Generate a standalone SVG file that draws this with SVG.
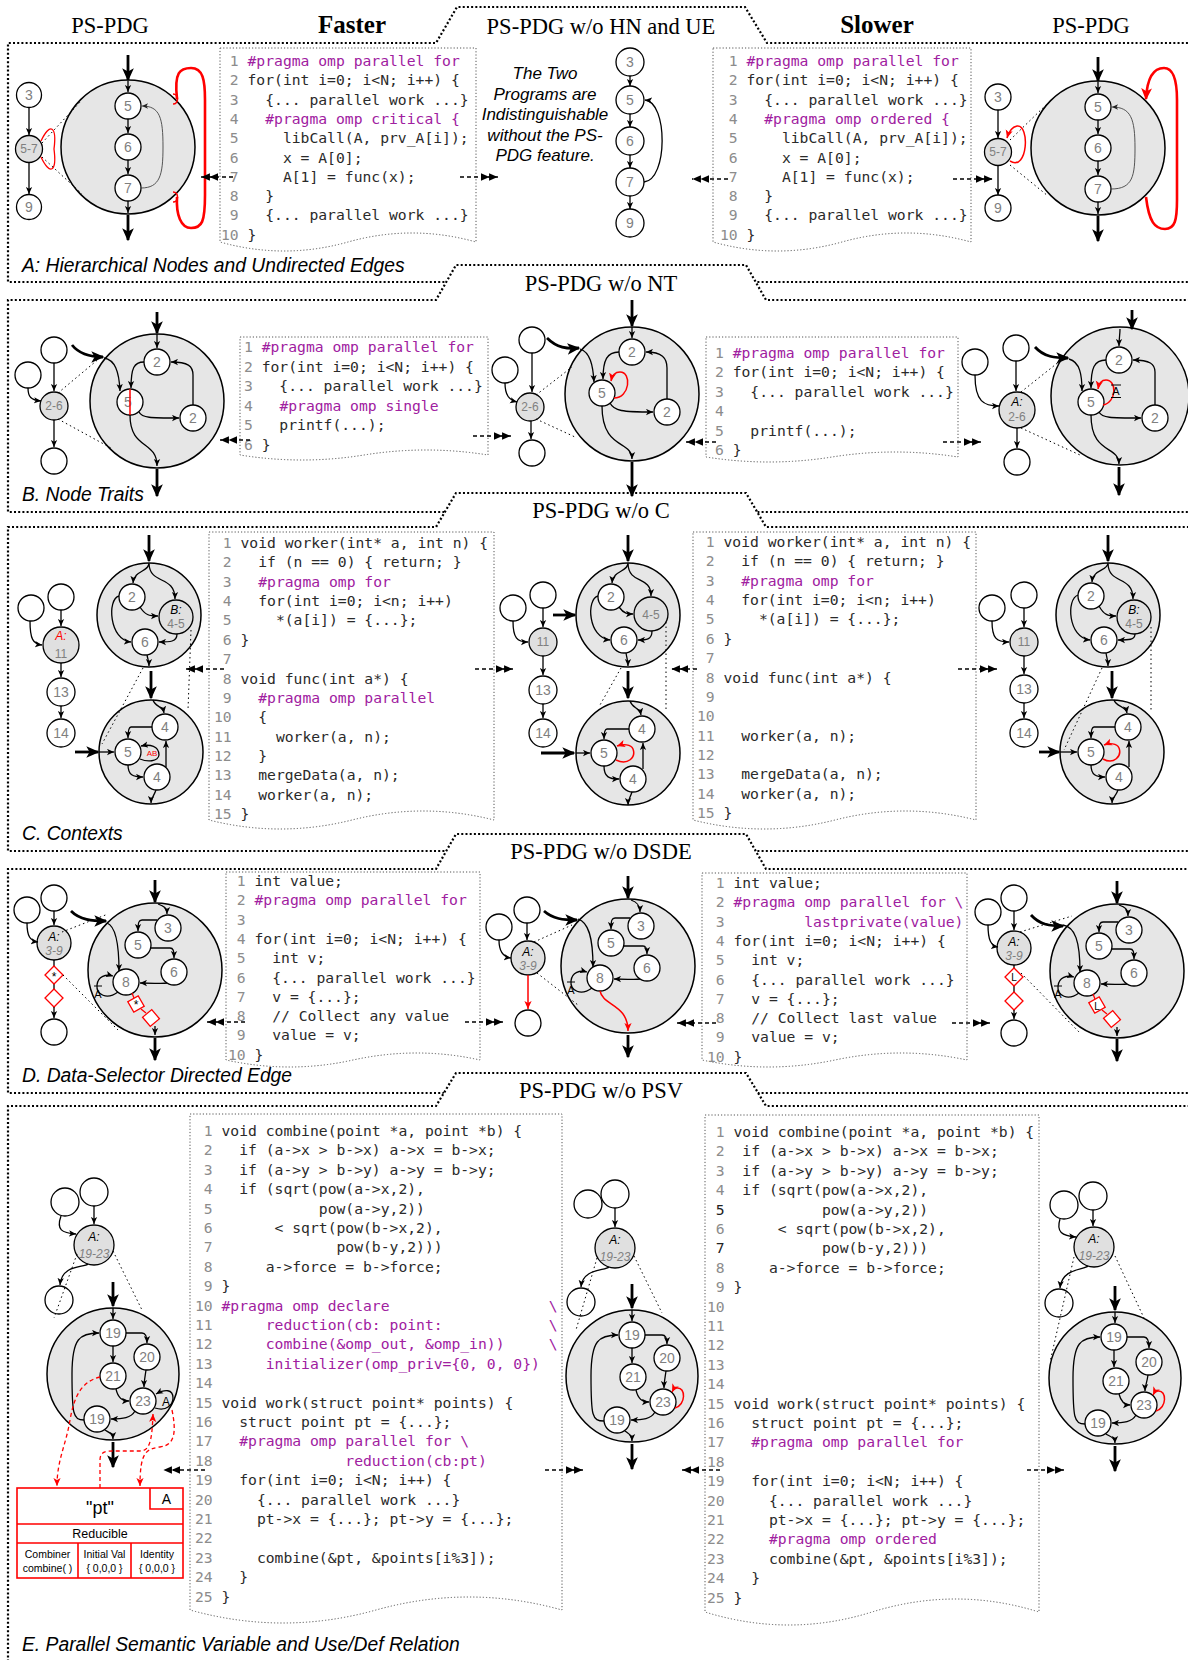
<svg xmlns="http://www.w3.org/2000/svg" width="1188" height="1660" viewBox="0 0 1188 1660">
<defs>
<style>
.frame{fill:#fff;stroke:#000;stroke-width:2.2;stroke-dasharray:2 2.2}
.ttl{font-family:"Liberation Serif","Times New Roman",serif;font-size:22.5px;text-anchor:middle;fill:#000}
.hd{font-family:"Liberation Serif","Times New Roman",serif;font-size:25px;font-weight:bold;text-anchor:middle;fill:#000}
.cap{font-family:"Liberation Sans",Arial,sans-serif;font-style:italic;font-size:19.3px;fill:#000}
.note{font-family:"Liberation Sans",Arial,sans-serif;font-style:italic;font-size:17px;fill:#000;text-anchor:middle}
.code{font-family:"DejaVu Sans Mono",monospace;font-size:14.7px;fill:#2a2a2a;white-space:pre}
.code text{white-space:pre}
.ln{fill:#8c8c8c}
.pr{fill:#a0209f}
.doc{fill:#fff;stroke:#555;stroke-width:1;stroke-dasharray:1.2 2}
.big{fill:#e6e6e6;stroke:#000;stroke-width:1.5}
.n{fill:#fff;stroke:#000;stroke-width:1.3}
.g{fill:#e0e0e0;stroke:#000;stroke-width:1.3}
.lb{font-family:"Liberation Sans",Arial,sans-serif;font-size:14px;fill:#7f7f7f;text-anchor:middle}
.sl{font-family:"Liberation Sans",Arial,sans-serif;font-size:12px;fill:#7f7f7f;text-anchor:middle}
.sk{font-family:"Liberation Sans",Arial,sans-serif;font-size:12px;font-style:italic;fill:#000;text-anchor:middle}
.sg{font-family:"Liberation Sans",Arial,sans-serif;font-size:12px;font-style:italic;fill:#808080;text-anchor:middle}
.e{fill:none;stroke:#000;stroke-width:1.3;marker-end:url(#ah)}
.bk{fill:none;stroke:#444;stroke-width:0.9;marker-end:url(#ag)}
.t{fill:none;stroke:#000;stroke-width:2.8;marker-end:url(#ab)}
.dt{fill:none;stroke:#000;stroke-width:1;stroke-dasharray:1.5 3}
.dc{fill:none;stroke:#000;stroke-width:1.3;stroke-dasharray:4 3;marker-end:url(#dd)}
.r{fill:none;stroke:#f00;stroke-width:1.5;marker-end:url(#ar)}
.rt{fill:none;stroke:#f00;stroke-width:2.6}
.rd{fill:none;stroke:#f00;stroke-width:1.3;stroke-dasharray:4 3;marker-end:url(#ar)}
.dia{fill:#fff;stroke:#f00;stroke-width:1.3}
.ol{stroke:#000;stroke-width:1;fill:none}
.psv{fill:#fff;stroke:#f00;stroke-width:1.6}
.pl{stroke:#f00;stroke-width:1.6;fill:none}
.pt{font-family:"Liberation Sans",Arial,sans-serif;fill:#000;text-anchor:middle}
</style>
<marker id="ah" viewBox="0 0 10 10" refX="10" refY="5" markerWidth="7" markerHeight="7" orient="auto" markerUnits="userSpaceOnUse"><path d="M0,0.5 L10,5 L0,9.5 L2.5,5z" fill="#000"/></marker>
<marker id="ag" viewBox="0 0 10 10" refX="10" refY="5" markerWidth="6" markerHeight="6" orient="auto" markerUnits="userSpaceOnUse"><path d="M0,0.5 L10,5 L0,9.5 L2.5,5z" fill="#222"/></marker>
<marker id="ab" viewBox="0 0 10 10" refX="9" refY="5" markerWidth="13" markerHeight="13" orient="auto" markerUnits="userSpaceOnUse"><path d="M0,0.5 L10,5 L0,9.5 L2.5,5z" fill="#000"/></marker>
<marker id="ar" viewBox="0 0 10 10" refX="10" refY="5" markerWidth="8" markerHeight="8" orient="auto" markerUnits="userSpaceOnUse"><path d="M0,0.5 L10,5 L0,9.5 L2.5,5z" fill="#f00"/></marker>
<marker id="arb" viewBox="0 0 10 10" refX="9" refY="5" markerWidth="12" markerHeight="12" orient="auto" markerUnits="userSpaceOnUse"><path d="M0,0.5 L10,5 L0,9.5 L2.5,5z" fill="#f00"/></marker>
<marker id="dd" viewBox="0 0 20 10" refX="20" refY="5" markerWidth="17" markerHeight="9" orient="auto" markerUnits="userSpaceOnUse"><path d="M0,0.5 L10,5 L0,9.5z M9.5,0.5 L19.5,5 L9.5,9.5z" fill="#000"/></marker>
</defs>
<rect width="1188" height="1660" fill="#fff"/>

<g id="frames">
<path class="frame" d="M1192,282 H8 V43 H436 L457,7 H745 L767,43 H1192"/>
<path class="frame" d="M1192,512 H8 V300 H436 L456,265 H746 L766,300 H1192"/>
<path class="frame" d="M1192,851 H8 V527 H436 L456,493 H746 L766,527 H1192"/>
<path class="frame" d="M1192,1093 H8 V869 H436 L456,834 H746 L766,869 H1192"/>
<path class="frame" d="M1192,1662 H8 V1106 H436 L456,1073 H746 L766,1106 H1192"/>
</g>

<g id="titles">
<text class="ttl" x="110" y="33">PS-PDG</text>
<text class="hd" x="352" y="33">Faster</text>
<text class="ttl" x="601" y="34">PS-PDG w/o HN and UE</text>
<text class="hd" x="877" y="33">Slower</text>
<text class="ttl" x="1091" y="33">PS-PDG</text>
<text class="ttl" x="601" y="291">PS-PDG w/o NT</text>
<text class="ttl" x="601" y="518">PS-PDG w/o C</text>
<text class="ttl" x="601" y="859">PS-PDG w/o DSDE</text>
<text class="ttl" x="601" y="1098">PS-PDG w/o PSV</text>
<text class="cap" x="22" y="272">A: Hierarchical Nodes and Undirected Edges</text>
<text class="cap" x="22" y="501">B. Node Traits</text>
<text class="cap" x="22" y="840">C. Contexts</text>
<text class="cap" x="22" y="1082">D. Data-Selector Directed Edge</text>
<text class="cap" x="22" y="1651">E. Parallel Semantic Variable and Use/Def Relation</text>
</g>

<!-- ========== SECTION A ========== -->
<g id="a-left">
<circle class="big" cx="128" cy="147" r="67"/>
<circle class="n" cx="128" cy="106" r="13"/><text class="lb" x="128" y="111">5</text>
<circle class="n" cx="128" cy="147" r="13"/><text class="lb" x="128" y="152">6</text>
<circle class="n" cx="128" cy="188" r="13"/><text class="lb" x="128" y="193">7</text>
<path class="t" d="M128,55 V80"/>
<path class="e" d="M128,81 V92"/>
<path class="e" d="M128,119 V133"/>
<path class="e" d="M128,160 V174"/>
<path class="e" d="M128,201 V213"/>
<path class="t" d="M128,215 V240"/>
<path class="bk" d="M141,188 C160,188 163,175 163,147 C163,118 160,106 142,106"/>
<path class="rt" d="M177,99 C174,72 180,68 191,68 C203,68 205,80 205,100 V195 C205,222 202,228 191,228 C181,228 176,215 177,197"/>
<path class="pl" d="M173,94 C179,94 179,104 173,104 M173,192 C179,192 179,202 173,202"/>
<circle class="n" cx="29" cy="95" r="12.5"/><text class="lb" x="29" y="100">3</text>
<circle class="g" cx="29" cy="149" r="13.5"/><text class="sl" x="29" y="153">5-7</text>
<circle class="n" cx="29" cy="207" r="12.5"/><text class="lb" x="29" y="212">9</text>
<path class="e" d="M29,108 V135"/>
<path class="e" d="M29,163 V194"/>
<path fill="none" stroke="#f00" stroke-width="1.3" d="M41,141 C50,122 57,126 54,149 C57,172 50,176 41,157"/>
<path class="dt" d="M42,143 L81,101 M42,157 L82,194"/>
</g>

<g id="a-code-left" class="code" xml:space="preserve">
<path class="doc" d="M220,48 H476 V242 Q412,224 348,242 Q284,260 220,242 Z"/>
<text x="221" y="66"><tspan class="ln"> 1</tspan> <tspan class="pr">#pragma omp parallel for</tspan></text>
<text x="221" y="85.3"><tspan class="ln"> 2</tspan> for(int i=0; i&lt;N; i++) {</text>
<text x="221" y="104.6"><tspan class="ln"> 3</tspan>   {... parallel work ...}</text>
<text x="221" y="123.9"><tspan class="ln"> 4</tspan>   <tspan class="pr">#pragma omp critical {</tspan></text>
<text x="221" y="143.2"><tspan class="ln"> 5</tspan>     libCall(A, prv_A[i]);</text>
<text x="221" y="162.5"><tspan class="ln"> 6</tspan>     x = A[0];</text>
<text x="221" y="181.8"><tspan class="ln"> 7</tspan>     A[1] = func(x);</text>
<text x="221" y="201.1"><tspan class="ln"> 8</tspan>   }</text>
<text x="221" y="220.4"><tspan class="ln"> 9</tspan>   {... parallel work ...}</text>
<text x="221" y="239.7"><tspan class="ln">10</tspan> }</text>
</g>

<g id="a-middle">
<text class="note" x="545" y="79">The Two</text>
<text class="note" x="545" y="99.5">Programs are</text>
<text class="note" x="545" y="120">Indistinguishable</text>
<text class="note" x="545" y="140.5">without the PS-</text>
<text class="note" x="545" y="161">PDG feature.</text>
<circle class="n" cx="630" cy="62" r="14"/><text class="lb" x="630" y="67">3</text>
<circle class="n" cx="630" cy="100" r="14"/><text class="lb" x="630" y="105">5</text>
<circle class="n" cx="630" cy="141" r="14"/><text class="lb" x="630" y="146">6</text>
<circle class="n" cx="630" cy="182" r="14"/><text class="lb" x="630" y="187">7</text>
<circle class="n" cx="630" cy="223" r="14"/><text class="lb" x="630" y="228">9</text>
<path class="e" d="M630,76 V86"/>
<path class="e" d="M630,114 V127"/>
<path class="e" d="M630,155 V168"/>
<path class="e" d="M630,196 V209"/>
<path class="e" d="M644,182 C668,180 668,102 645,100"/>
</g>

<g id="a-code-right" class="code" xml:space="preserve">
<path class="doc" d="M713,48 H971 V242 Q906,224 842,242 Q777,260 713,242 Z"/>
<text x="720" y="66"><tspan class="ln"> 1</tspan> <tspan class="pr">#pragma omp parallel for</tspan></text>
<text x="720" y="85.3"><tspan class="ln"> 2</tspan> for(int i=0; i&lt;N; i++) {</text>
<text x="720" y="104.6"><tspan class="ln"> 3</tspan>   {... parallel work ...}</text>
<text x="720" y="123.9"><tspan class="ln"> 4</tspan>   <tspan class="pr">#pragma omp ordered {</tspan></text>
<text x="720" y="143.2"><tspan class="ln"> 5</tspan>     libCall(A, prv_A[i]);</text>
<text x="720" y="162.5"><tspan class="ln"> 6</tspan>     x = A[0];</text>
<text x="720" y="181.8"><tspan class="ln"> 7</tspan>     A[1] = func(x);</text>
<text x="720" y="201.1"><tspan class="ln"> 8</tspan>   }</text>
<text x="720" y="220.4"><tspan class="ln"> 9</tspan>   {... parallel work ...}</text>
<text x="720" y="239.7"><tspan class="ln">10</tspan> }</text>
</g>

<g id="a-right">
<circle class="big" cx="1098" cy="148" r="67"/>
<circle class="n" cx="1098" cy="107" r="13"/><text class="lb" x="1098" y="112">5</text>
<circle class="n" cx="1098" cy="148" r="13"/><text class="lb" x="1098" y="153">6</text>
<circle class="n" cx="1098" cy="189" r="13"/><text class="lb" x="1098" y="194">7</text>
<path class="t" d="M1098,57 V81"/>
<path class="e" d="M1098,82 V93"/>
<path class="e" d="M1098,120 V134"/>
<path class="e" d="M1098,161 V175"/>
<path class="e" d="M1098,202 V214"/>
<path class="t" d="M1098,216 V241"/>
<path class="bk" d="M1111,189 C1133,189 1135,176 1135,148 C1135,119 1131,107 1112,107"/>
<path class="rt" marker-end="url(#arb)" d="M1146,197 C1149,222 1155,229 1165,229 C1175,229 1177,220 1177,200 V100 C1177,76 1172,68 1164,68 C1152,68 1147,80 1146,99"/>
<circle class="n" cx="998" cy="97" r="13"/><text class="lb" x="998" y="102">3</text>
<circle class="g" cx="998" cy="152" r="13.5"/><text class="sl" x="998" y="156">5-7</text>
<circle class="n" cx="998" cy="208" r="13"/><text class="lb" x="998" y="213">9</text>
<path class="e" d="M998,110 V138"/>
<path class="e" d="M998,166 V195"/>
<path class="r" d="M1010,161 C1028,172 1030,124 1017,126 C1012,127 1009,131 1007,138"/>
<path class="dt" d="M1010,140 L1048,103 M1010,165 L1048,196"/>
</g>

<g id="a-connectors">
<path class="dc" d="M233,177 H201"/>
<path class="dc" d="M460,177 H498"/>
<path class="dc" d="M728,179 H692"/>
<path class="dc" d="M953,179 H993"/>
</g>

<!-- ========== SECTION B ========== -->
<g id="b-left">
<circle class="big" cx="157" cy="401" r="67"/>
<circle class="n" cx="157" cy="362" r="13"/><text class="lb" x="157" y="367">2</text>
<circle class="n" cx="130" cy="402" r="13"/><text class="lb" x="128" y="407">5</text>
<circle class="n" cx="193" cy="418" r="13"/><text class="lb" x="193" y="423">2</text>
<path class="t" d="M157,312 V333"/>
<path class="e" d="M157,334 V348"/>
<path class="e" d="M104,358 C115,360 119,371 120,391"/>
<path class="e" d="M144,362 C134,362 131,368 131,388"/>
<path class="e" d="M139,412 C142,418 150,418 179,418"/>
<path class="e" d="M193,405 V375 C193,366 188,362 171,362"/>
<path class="e" d="M130,415 C130,450 157,440 157,466"/>
<path class="t" d="M157,469 V496"/>
<path stroke="#f00" stroke-width="1.5" d="M130,389 V415"/>
<circle class="n" cx="54" cy="350" r="13"/>
<circle class="n" cx="28" cy="375" r="13"/>
<circle class="g" cx="54" cy="406" r="14"/><text class="sl" x="54" y="410">2-6</text>
<circle class="n" cx="54" cy="461" r="13"/>
<path class="e" d="M54,363 V391"/>
<path class="e" d="M28,388 C28,397 31,400 41,401"/>
<path class="e" d="M54,420 V447"/>
<path class="dt" d="M58,393 L101,357 M58,419 L111,448"/>
<path class="t" d="M72,345 C80,355 92,357 103,357"/>
</g>

<g id="b-code-left" class="code" xml:space="preserve">
<path class="doc" d="M240,337 H488 V455 Q426,445 364,455 Q302,465 240,455 Z"/>
<text x="244" y="352"><tspan class="ln">1</tspan> <tspan class="pr">#pragma omp parallel for</tspan></text>
<text x="244" y="371.6"><tspan class="ln">2</tspan> for(int i=0; i&lt;N; i++) {</text>
<text x="244" y="391.2"><tspan class="ln">3</tspan>   {... parallel work ...}</text>
<text x="244" y="410.8"><tspan class="ln">4</tspan>   <tspan class="pr">#pragma omp single</tspan></text>
<text x="244" y="430.4"><tspan class="ln">5</tspan>   printf(...);</text>
<text x="244" y="450"><tspan class="ln">6</tspan> }</text>
</g>

<g id="b-middle">
<circle class="big" cx="632" cy="394" r="67"/>
<circle class="n" cx="632" cy="352" r="13"/><text class="lb" x="632" y="357">2</text>
<circle class="n" cx="602" cy="393" r="13"/><text class="lb" x="602" y="398">5</text>
<circle class="n" cx="667" cy="412" r="13"/><text class="lb" x="667" y="417">2</text>
<path class="t" d="M632,300 V326"/>
<path class="e" d="M632,327 V338"/>
<path class="e" d="M580,349 C590,352 593,365 594,382"/>
<path class="e" d="M619,352 C607,352 603,360 603,379"/>
<path class="e" d="M610,403 C614,411 622,412 653,412"/>
<path class="e" d="M667,399 V368 C667,358 662,352 646,352"/>
<path class="e" d="M602,406 C602,450 632,440 632,459"/>
<path class="t" d="M632,462 V496"/>
<path class="r" d="M614,398 C630,398 632,372 620,372 C615,372 612,376 611,381"/>
<circle class="n" cx="532" cy="340" r="13"/>
<circle class="n" cx="505" cy="370" r="13"/>
<circle class="g" cx="530" cy="407" r="14"/><text class="sl" x="530" y="411">2-6</text>
<circle class="n" cx="532" cy="453" r="13"/>
<path class="e" d="M532,353 V392"/>
<path class="e" d="M505,383 C505,395 509,400 517,402"/>
<path class="e" d="M531,421 V439"/>
<path class="dt" d="M536,395 L572,367 M536,419 L575,437"/>
<path class="t" d="M547,338 C557,348 567,349 579,348"/>
</g>

<g id="b-code-right" class="code" xml:space="preserve">
<path class="doc" d="M706,337 H958 V457 Q895,447 832,457 Q769,467 706,457 Z"/>
<text x="715" y="358"><tspan class="ln">1</tspan> <tspan class="pr">#pragma omp parallel for</tspan></text>
<text x="715" y="377.4"><tspan class="ln">2</tspan> for(int i=0; i&lt;N; i++) {</text>
<text x="715" y="396.8"><tspan class="ln">3</tspan>   {... parallel work ...}</text>
<text x="715" y="416.2"><tspan class="ln">4</tspan></text>
<text x="715" y="435.6"><tspan class="ln">5</tspan>   printf(...);</text>
<text x="715" y="455"><tspan class="ln">6</tspan> }</text>
</g>

<g id="b-right">
<circle class="big" cx="1120" cy="396" r="69"/>
<circle class="n" cx="1119" cy="360" r="13"/><text class="lb" x="1119" y="365">2</text>
<circle class="n" cx="1091" cy="402" r="13"/><text class="lb" x="1091" y="407">5</text>
<circle class="n" cx="1155" cy="418" r="13"/><text class="lb" x="1155" y="423">2</text>
<path class="t" d="M1132,310 V329"/>
<path class="e" d="M1120,329 C1120,335 1119,338 1119,346"/>
<path class="e" d="M1069,359 C1080,362 1082,375 1082,391"/>
<path class="e" d="M1106,360 C1094,360 1091,368 1091,388"/>
<path class="e" d="M1099,412 C1102,418 1110,418 1141,418"/>
<path class="e" d="M1155,405 V372 C1155,364 1150,360 1133,360"/>
<path class="e" d="M1091,415 C1091,455 1119,445 1119,464"/>
<path class="t" d="M1119,467 V495"/>
<path class="r" d="M1103,405 C1117,402 1117,380 1106,380 C1101,380 1099,383 1098,389"/>
<text x="1116" y="395" font-family="Liberation Sans, Arial, sans-serif" font-size="11" text-anchor="middle">A</text>
<path class="ol" d="M1111,385 H1121 M1111,397.5 H1121"/>
<circle class="n" cx="1016" cy="348" r="13"/>
<circle class="n" cx="975" cy="362" r="13"/>
<circle class="g" cx="1017" cy="410" r="18"/><text class="sk" x="1017" y="406" font-style="normal">A:</text><text class="sl" x="1017" y="421">2-6</text>
<circle class="n" cx="1017" cy="462" r="13"/>
<path class="e" d="M1016,361 V391"/>
<path class="e" d="M975,375 C975,402 984,406 999,406"/>
<path class="e" d="M1017,428 V448"/>
<path class="dt" d="M1021,392 L1065,357 M1021,428 L1080,455"/>
<path class="t" d="M1035,347 C1044,357 1055,358 1068,358"/>
</g>

<g id="b-connectors">
<path class="dc" d="M250,440 H220"/>
<path class="dc" d="M473,436 H511"/>
<path class="dc" d="M716,442 H686"/>
<path class="dc" d="M943,442 H981"/>
</g>

<!-- ========== SECTION C ========== -->
<g id="c-left">
<g transform="translate(149,615)">
<circle class="big" r="52"/>
<path class="t" d="M0,-80 V-54"/>
<circle class="n" cx="-17" cy="-18" r="13"/><text class="lb" x="-17" y="-13">2</text>
<circle class="g" cx="27" cy="2" r="17"/><text class="sk" x="27" y="-1">B:</text><text class="sl" x="27" y="13">4-5</text>
<circle class="n" cx="-4" cy="27" r="13"/><text class="lb" x="-4" y="32">6</text>
<path class="e" d="M0,-52 C0,-43 -15,-45 -16,-32"/>
<path class="e" d="M0,-51 C1,-30 26,-40 26,-16"/>
<path class="e" d="M-9,-8 C-4,0 0,1 9,1"/>
<path class="e" d="M-30,-19 C-42,-16 -40,25 -18,27"/>
<path class="e" d="M28,19 C28,27 21,27 10,27"/>
<path class="e" d="M-2,40 C-1,45 0,47 0,51"/>
</g>
<path class="t" d="M151,671 V698"/>
<g transform="translate(151,752)">
<circle class="big" r="52"/>
<circle class="n" cx="14" cy="-25" r="13"/><text class="lb" x="14" y="-20">4</text>
<circle class="n" cx="-23" cy="0" r="13"/><text class="lb" x="-23" y="5">5</text>
<circle class="n" cx="6" cy="25" r="13"/><text class="lb" x="6" y="30">4</text>
<path class="e" d="M2,-52 C4,-45 12,-46 13,-39"/>
<path class="e" d="M1,-25 H-20 C-22,-25 -23,-22 -23,-14"/>
<path class="e" d="M-23,13 C-23,23 -18,25 -8,25"/>
<path class="e" d="M15,15 V-11"/>
<path class="e" d="M-11,7 C-4,10 7,10 8,3 C8,-6 -1,-8 -10,-6"/>
<text x="1" y="4" font-family="Liberation Sans, Arial, sans-serif" font-size="8" fill="#f00" text-anchor="middle">AB</text>
<path class="t" d="M-76,0 H-53"/>
<path class="e" d="M-52,0 H-37"/>
<path class="e" d="M5,38 C3,44 0,46 0,51"/>
</g>
<path class="dt" d="M143,668 L102,744 M191,630 L188,710"/>
<circle class="n" cx="61" cy="597" r="13"/>
<circle class="n" cx="31" cy="608" r="13"/>
<circle class="g" cx="61" cy="645" r="18"/><text class="sk" x="61" y="640" style="fill:#f00">A:</text><text class="sl" x="61" y="658">11</text>
<circle class="n" cx="61" cy="692" r="14"/><text class="lb" x="61" y="697">13</text>
<circle class="n" cx="61" cy="733" r="14"/><text class="lb" x="61" y="738">14</text>
<path class="e" d="M61,610 V626"/>
<path class="e" d="M30,621 C30,639 33,644 42,645"/>
<path class="e" d="M61,663 V677"/>
<path class="e" d="M61,706 V718"/>
</g>

<g id="c-code-left" class="code" xml:space="preserve">
<path class="doc" d="M209,532 H494 V820 Q423,802 352,820 Q280,838 209,820 Z"/>
<text x="214" y="548"><tspan class="ln"> 1</tspan> void worker(int* a, int n) {</text>
<text x="214" y="567.4"><tspan class="ln"> 2</tspan>   if (n == 0) { return; }</text>
<text x="214" y="586.7"><tspan class="ln"> 3</tspan>   <tspan class="pr">#pragma omp for</tspan></text>
<text x="214" y="606.1"><tspan class="ln"> 4</tspan>   for(int i=0; i&lt;n; i++)</text>
<text x="214" y="625.4"><tspan class="ln"> 5</tspan>     *(a[i]) = {...};</text>
<text x="214" y="644.8"><tspan class="ln"> 6</tspan> }</text>
<text x="214" y="664.2"><tspan class="ln"> 7</tspan></text>
<text x="214" y="683.5"><tspan class="ln"> 8</tspan> void func(int a*) {</text>
<text x="214" y="702.9"><tspan class="ln"> 9</tspan>   <tspan class="pr">#pragma omp parallel</tspan></text>
<text x="214" y="722.2"><tspan class="ln">10</tspan>   {</text>
<text x="214" y="741.6"><tspan class="ln">11</tspan>     worker(a, n);</text>
<text x="214" y="761"><tspan class="ln">12</tspan>   }</text>
<text x="214" y="780.3"><tspan class="ln">13</tspan>   mergeData(a, n);</text>
<text x="214" y="799.7"><tspan class="ln">14</tspan>   worker(a, n);</text>
<text x="214" y="819"><tspan class="ln">15</tspan> }</text>
</g>

<g id="c-middle">
<g transform="translate(628,615)">
<circle class="big" r="52"/>
<path class="t" d="M0,-80 V-54"/>
<circle class="n" cx="-17" cy="-18" r="13"/><text class="lb" x="-17" y="-13">2</text>
<circle class="g" cx="23" cy="-1" r="17"/><text class="sl" x="23" y="4">4-5</text>
<circle class="n" cx="-4" cy="25" r="13"/><text class="lb" x="-4" y="30">6</text>
<path class="e" d="M0,-52 C0,-43 -15,-45 -16,-32"/>
<path class="e" d="M0,-51 C1,-30 23,-40 23,-19"/>
<path class="e" d="M-9,-8 C-4,-1 0,-1 5,-1"/>
<path class="e" d="M-30,-19 C-42,-16 -40,23 -18,25"/>
<path class="e" d="M24,16 C24,25 18,25 10,25"/>
<path class="e" d="M-2,38 C-1,44 0,46 0,51"/>
</g>
<path class="t" d="M553,615 H575"/>
<path class="t" d="M628,671 V698"/>
<g transform="translate(628,753)">
<circle class="big" r="52"/>
<circle class="n" cx="14" cy="-24" r="13"/><text class="lb" x="14" y="-19">4</text>
<circle class="n" cx="-24" cy="0" r="13"/><text class="lb" x="-24" y="5">5</text>
<circle class="n" cx="5" cy="26" r="13"/><text class="lb" x="5" y="31">4</text>
<path class="e" d="M2,-52 C4,-45 12,-45 13,-38"/>
<path class="e" d="M1,-24 H-21 C-23,-24 -24,-21 -24,-14"/>
<path class="e" d="M-24,13 C-24,24 -19,26 -9,26"/>
<path class="e" d="M15,16 V-10"/>
<path class="r" d="M-12,7 C0,13 8,4 5,-4 C3,-9 -5,-9 -11,-7"/>
<path class="t" d="M-87,0 H-54"/>
<path class="e" d="M-52,0 H-38"/>
<path class="e" d="M4,39 C2,45 0,47 0,52"/>
</g>
<path class="dt" d="M621,668 L600,705 M666,622 L666,712"/>
<circle class="n" cx="543" cy="595" r="13"/>
<circle class="n" cx="513" cy="608" r="13"/>
<circle class="g" cx="543" cy="642" r="14"/><text class="sl" x="543" y="646">11</text>
<circle class="n" cx="543" cy="690" r="14"/><text class="lb" x="543" y="695">13</text>
<circle class="n" cx="543" cy="733" r="14"/><text class="lb" x="543" y="738">14</text>
<path class="e" d="M543,608 V627"/>
<path class="e" d="M513,621 C513,638 517,642 528,642"/>
<path class="e" d="M543,656 V675"/>
<path class="e" d="M543,704 V718"/>
</g>

<g id="c-code-right" class="code" xml:space="preserve">
<path class="doc" d="M693,532 H976 V820 Q905,802 835,820 Q764,838 693,820 Z"/>
<text x="697" y="547"><tspan class="ln"> 1</tspan> void worker(int* a, int n) {</text>
<text x="697" y="566.4"><tspan class="ln"> 2</tspan>   if (n == 0) { return; }</text>
<text x="697" y="585.7"><tspan class="ln"> 3</tspan>   <tspan class="pr">#pragma omp for</tspan></text>
<text x="697" y="605.1"><tspan class="ln"> 4</tspan>   for(int i=0; i&lt;n; i++)</text>
<text x="697" y="624.4"><tspan class="ln"> 5</tspan>     *(a[i]) = {...};</text>
<text x="697" y="643.8"><tspan class="ln"> 6</tspan> }</text>
<text x="697" y="663.2"><tspan class="ln"> 7</tspan></text>
<text x="697" y="682.5"><tspan class="ln"> 8</tspan> void func(int a*) {</text>
<text x="697" y="701.9"><tspan class="ln"> 9</tspan></text>
<text x="697" y="721.2"><tspan class="ln">10</tspan></text>
<text x="697" y="740.6"><tspan class="ln">11</tspan>   worker(a, n);</text>
<text x="697" y="760"><tspan class="ln">12</tspan></text>
<text x="697" y="779.3"><tspan class="ln">13</tspan>   mergeData(a, n);</text>
<text x="697" y="798.7"><tspan class="ln">14</tspan>   worker(a, n);</text>
<text x="697" y="818"><tspan class="ln">15</tspan> }</text>
</g>

<g id="c-right">
<g transform="translate(1108,615)">
<circle class="big" r="52"/>
<path class="t" d="M0,-80 V-54"/>
<circle class="n" cx="-17" cy="-19" r="13"/><text class="lb" x="-17" y="-14">2</text>
<circle class="g" cx="26" cy="2" r="17"/><text class="sk" x="26" y="-1">B:</text><text class="sl" x="26" y="13">4-5</text>
<circle class="n" cx="-4" cy="25" r="13"/><text class="lb" x="-4" y="30">6</text>
<path class="e" d="M0,-52 C0,-44 -15,-46 -16,-33"/>
<path class="e" d="M0,-51 C1,-30 25,-40 25,-16"/>
<path class="e" d="M-9,-9 C-4,0 0,1 8,1"/>
<path class="e" d="M-30,-20 C-42,-16 -40,23 -18,25"/>
<path class="e" d="M27,19 C27,25 21,25 10,25"/>
<path class="e" d="M-2,38 C-1,44 0,46 0,51"/>
</g>
<path class="t" d="M1112,671 V698"/>
<g transform="translate(1112,752)">
<circle class="big" r="52"/>
<circle class="n" cx="16" cy="-25" r="13"/><text class="lb" x="16" y="-20">4</text>
<circle class="n" cx="-21" cy="0" r="13"/><text class="lb" x="-21" y="5">5</text>
<circle class="n" cx="7" cy="25" r="13"/><text class="lb" x="7" y="30">4</text>
<path class="e" d="M2,-52 C4,-45 14,-46 15,-39"/>
<path class="e" d="M3,-25 H-18 C-20,-25 -21,-22 -21,-14"/>
<path class="e" d="M-21,13 C-21,23 -16,25 -7,25"/>
<path class="e" d="M17,15 V-11"/>
<path class="r" d="M-9,7 C2,13 10,4 7,-4 C5,-9 -3,-9 -8,-7"/>
<path class="t" d="M-73,0 H-53"/>
<path class="e" d="M-52,0 H-35"/>
<path class="e" d="M6,38 C4,44 0,46 0,51"/>
</g>
<path class="dt" d="M1102,668 L1064,750 M1151,627 L1151,712"/>
<circle class="n" cx="1024" cy="595" r="13"/>
<circle class="n" cx="992" cy="608" r="13"/>
<circle class="g" cx="1024" cy="642" r="14"/><text class="sl" x="1024" y="646">11</text>
<circle class="n" cx="1024" cy="689" r="14"/><text class="lb" x="1024" y="694">13</text>
<circle class="n" cx="1024" cy="733" r="14"/><text class="lb" x="1024" y="738">14</text>
<path class="e" d="M1024,608 V627"/>
<path class="e" d="M992,621 C992,638 996,642 1009,642"/>
<path class="e" d="M1024,656 V674"/>
<path class="e" d="M1024,703 V718"/>
</g>

<g id="c-connectors">
<path class="dc" d="M224,669 H186"/>
<path class="dc" d="M475,669 H513"/>
<path class="dc" d="M697,669 H671"/>
<path class="dc" d="M958,669 H997"/>
</g>

<!-- ========== SECTION D ========== -->
<g id="d-left">
<g transform="translate(155,970)">
<circle class="big" r="67"/>
<path class="t" d="M0,-90 V-68"/>
<circle class="n" cx="13" cy="-42" r="13"/><text class="lb" x="13" y="-37">3</text>
<circle class="n" cx="-17" cy="-25" r="13"/><text class="lb" x="-17" y="-20">5</text>
<circle class="n" cx="19" cy="2" r="13"/><text class="lb" x="19" y="7">6</text>
<circle class="n" cx="-29" cy="12" r="13"/><text class="lb" x="-29" y="17">8</text>
<path class="e" d="M3,-66 C9,-64 12,-62 12,-56"/>
<path class="e" d="M2,-50 H-13 C-16,-50 -17,-48 -17,-39"/>
<path class="e" d="M-5,-22 H15 C18,-22 19,-20 19,-12"/>
<path class="e" d="M12,13 C8,14 0,13 -15,13"/>
<path class="e" d="M-48,-47 C-40,-44 -36,-30 -36,1"/>
<path class="e" d="M-37,22 C-48,30 -59,25 -58,15 C-57,6 -49,4 -42,6"/>
<text x="-57" y="28" font-family="Liberation Sans, Arial, sans-serif" font-size="11" text-anchor="middle">A</text>
<path class="ol" d="M-61,16 H-53"/>
<path stroke="#f00" stroke-width="1.3" d="M-23,23 L-21,28 M-14,39 L-9,43"/>
<rect class="dia" x="-6" y="-6" width="12" height="12" transform="translate(-19,34) rotate(-30)"/>
<text x="-19" y="39" font-family="Liberation Sans, Arial, sans-serif" font-size="12" text-anchor="middle">*</text>
<rect class="dia" x="-6" y="-6" width="12" height="12" transform="translate(-4,48) rotate(-40)"/>
<path class="e" d="M0,56 V65"/>
<path class="t" d="M0,68 V90"/>
</g>
<circle class="n" cx="54" cy="898" r="13"/>
<circle class="n" cx="27" cy="910" r="13"/>
<circle class="g" cx="54" cy="943" r="17"/><text class="sk" x="54" y="941">A:</text><text class="sg" x="54" y="955">3-9</text>
<path class="e" d="M54,911 V925"/>
<path class="e" d="M27,923 C27,936 30,941 38,942"/>
<path stroke="#000" stroke-width="1.3" d="M54,960 V966 M54,984 V989"/>
<path class="dia" d="M54,966 L63,975 L54,984 L45,975Z"/>
<text x="54" y="981" font-family="Liberation Sans, Arial, sans-serif" font-size="12" text-anchor="middle">*</text>
<path class="dia" d="M54,989 L63,998 L54,1007 L45,998Z"/>
<path class="e" d="M54,1007 V1018"/>
<circle class="n" cx="54" cy="1032" r="13"/>
<path class="dt" d="M62,932 L108,914 M63,975 L118,1030"/>
<path class="t" d="M71,911 C80,920 92,921 106,921"/>
</g>

<g id="d-code-left" class="code" xml:space="preserve">
<path class="doc" d="M226,872 H480 V1060 Q417,1046 353,1060 Q290,1074 226,1060 Z"/>
<text x="228" y="886"><tspan class="ln"> 1</tspan> int value;</text>
<text x="228" y="905.3"><tspan class="ln"> 2</tspan> <tspan class="pr">#pragma omp parallel for</tspan></text>
<text x="228" y="924.6"><tspan class="ln"> 3</tspan></text>
<text x="228" y="943.9"><tspan class="ln"> 4</tspan> for(int i=0; i&lt;N; i++) {</text>
<text x="228" y="963.2"><tspan class="ln"> 5</tspan>   int v;</text>
<text x="228" y="982.5"><tspan class="ln"> 6</tspan>   {... parallel work ...}</text>
<text x="228" y="1001.8"><tspan class="ln"> 7</tspan>   v = {...};</text>
<text x="228" y="1021.1"><tspan class="ln"> 8</tspan>   // Collect any value</text>
<text x="228" y="1040.4"><tspan class="ln"> 9</tspan>   value = v;</text>
<text x="228" y="1059.7"><tspan class="ln">10</tspan> }</text>
</g>

<g id="d-middle">
<g transform="translate(628,966)">
<circle class="big" r="67"/>
<path class="t" d="M0,-90 V-68"/>
<circle class="n" cx="13" cy="-40" r="13"/><text class="lb" x="13" y="-35">3</text>
<circle class="n" cx="-17" cy="-23" r="13"/><text class="lb" x="-17" y="-18">5</text>
<circle class="n" cx="19" cy="2" r="13"/><text class="lb" x="19" y="7">6</text>
<circle class="n" cx="-28" cy="12" r="13"/><text class="lb" x="-28" y="17">8</text>
<path class="e" d="M3,-66 C9,-64 12,-61 12,-54"/>
<path class="e" d="M2,-48 H-13 C-16,-48 -17,-46 -17,-37"/>
<path class="e" d="M-5,-20 H15 C18,-20 19,-18 19,-12"/>
<path class="e" d="M12,13 C8,14 0,13 -14,13"/>
<path class="e" d="M-50,-47 C-40,-44 -35,-30 -35,1"/>
<path class="e" d="M-36,22 C-47,30 -58,25 -57,15 C-56,6 -48,4 -41,6"/>
<text x="-57" y="28" font-family="Liberation Sans, Arial, sans-serif" font-size="11" text-anchor="middle">A</text>
<path class="ol" d="M-61,16 H-53"/>
<path class="r" d="M-28,25 C-25,40 0,38 0,65"/>
<path class="t" d="M0,69 V91"/>
</g>
<circle class="n" cx="527" cy="910" r="13"/>
<circle class="n" cx="499" cy="927" r="13"/>
<circle class="g" cx="528" cy="958" r="17"/><text class="sk" x="528" y="956">A:</text><text class="sg" x="528" y="970">3-9</text>
<circle class="n" cx="528" cy="1023" r="13"/>
<path class="e" d="M527,923 V940"/>
<path class="e" d="M499,940 C499,952 503,957 511,958"/>
<path class="r" d="M528,975 V1009"/>
<path class="dt" d="M534,942 L572,925 M537,973 L578,1005"/>
<path class="t" d="M544,911 C553,919 563,920 577,920"/>
</g>

<g id="d-code-right" class="code" xml:space="preserve">
<path class="doc" d="M702,873 H967 V1060 Q901,1046 835,1060 Q768,1074 702,1060 Z"/>
<text x="707" y="888"><tspan class="ln"> 1</tspan> int value;</text>
<text x="707" y="907.3"><tspan class="ln"> 2</tspan> <tspan class="pr">#pragma omp parallel for \</tspan></text>
<text x="707" y="926.6"><tspan class="ln"> 3</tspan>         <tspan class="pr">lastprivate(value)</tspan></text>
<text x="707" y="945.9"><tspan class="ln"> 4</tspan> for(int i=0; i&lt;N; i++) {</text>
<text x="707" y="965.2"><tspan class="ln"> 5</tspan>   int v;</text>
<text x="707" y="984.5"><tspan class="ln"> 6</tspan>   {... parallel work ...}</text>
<text x="707" y="1003.8"><tspan class="ln"> 7</tspan>   v = {...};</text>
<text x="707" y="1023.1"><tspan class="ln"> 8</tspan>   // Collect last value</text>
<text x="707" y="1042.4"><tspan class="ln"> 9</tspan>   value = v;</text>
<text x="707" y="1061.7"><tspan class="ln">10</tspan> }</text>
</g>

<g id="d-right">
<g transform="translate(1117,971)">
<circle class="big" r="67"/>
<path class="t" d="M0,-90 V-68"/>
<circle class="n" cx="12" cy="-41" r="13"/><text class="lb" x="12" y="-36">3</text>
<circle class="n" cx="-18" cy="-25" r="13"/><text class="lb" x="-18" y="-20">5</text>
<circle class="n" cx="17" cy="2" r="13"/><text class="lb" x="17" y="7">6</text>
<circle class="n" cx="-30" cy="12" r="13"/><text class="lb" x="-30" y="17">8</text>
<path class="e" d="M2,-66 C8,-64 11,-62 11,-55"/>
<path class="e" d="M1,-49 H-14 C-17,-49 -18,-47 -18,-39"/>
<path class="e" d="M-6,-22 H13 C16,-22 17,-20 17,-12"/>
<path class="e" d="M10,13 C6,14 -2,13 -16,13"/>
<path class="e" d="M-54,-46 C-42,-44 -37,-30 -37,1"/>
<path class="e" d="M-38,22 C-49,30 -60,25 -59,15 C-58,6 -50,4 -43,6"/>
<text x="-59" y="27" font-family="Liberation Sans, Arial, sans-serif" font-size="11" text-anchor="middle">A</text>
<path class="ol" d="M-63,15 H-55"/>
<path stroke="#f00" stroke-width="1.3" d="M-24,23 L-22,28 M-15,39 L-10,43"/>
<rect class="dia" x="-6" y="-6" width="12" height="12" transform="translate(-20,34) rotate(-30)"/>
<text x="-20" y="38.5" font-family="Liberation Sans, Arial, sans-serif" font-size="10" text-anchor="middle">L</text>
<rect class="dia" x="-6" y="-6" width="12" height="12" transform="translate(-5,48) rotate(-40)"/>
<path class="e" d="M0,56 V65"/>
<path class="t" d="M0,68 V90"/>
</g>
<circle class="n" cx="1014" cy="898" r="13"/>
<circle class="n" cx="988" cy="912" r="13"/>
<circle class="g" cx="1014" cy="948" r="17"/><text class="sk" x="1014" y="946">A:</text><text class="sg" x="1014" y="960">3-9</text>
<path class="e" d="M1014,911 V930"/>
<path class="e" d="M988,925 C988,940 991,946 998,947"/>
<path stroke="#000" stroke-width="1.3" d="M1014,965 V968 M1014,986 V992"/>
<path class="dia" d="M1014,968 L1023,977 L1014,986 L1005,977Z"/>
<text x="1014" y="981" font-family="Liberation Sans, Arial, sans-serif" font-size="10" text-anchor="middle">L</text>
<path class="dia" d="M1014,992 L1023,1001 L1014,1010 L1005,1001Z"/>
<path class="e" d="M1014,1010 V1019"/>
<circle class="n" cx="1014" cy="1033" r="13"/>
<path class="dt" d="M1020,932 L1072,916 M1021,973 L1080,1033"/>
<path class="t" d="M1031,915 C1040,925 1050,926 1063,926"/>
</g>

<g id="d-connectors">
<path class="dc" d="M245,1022 H207"/>
<path class="dc" d="M465,1022 H503"/>
<path class="dc" d="M716,1023 H677"/>
<path class="dc" d="M952,1023 H990"/>
</g>

<!-- ========== SECTION E ========== -->
<g id="e-left">
<g transform="translate(113,1374)">
<circle class="big" r="66"/>
<path class="t" d="M0,-92 V-68"/>
<path class="e" d="M0,-66 V-55"/>
<circle class="n" cx="0" cy="-41" r="13"/><text class="lb" x="0" y="-36">19</text>
<circle class="n" cx="34" cy="-17" r="13"/><text class="lb" x="34" y="-12">20</text>
<circle class="n" cx="0" cy="2" r="13"/><text class="lb" x="0" y="7">21</text>
<circle class="n" cx="30" cy="27" r="13"/><text class="lb" x="30" y="32">23</text>
<circle class="n" cx="-16" cy="45" r="13"/><text class="lb" x="-16" y="50">19</text>
<path class="e" d="M0,-28 V-12"/>
<path class="e" d="M13,-41 H29 C32,-41 34,-39 34,-31"/>
<path class="e" d="M33,-4 C32,3 31,8 31,13"/>
<path class="e" d="M3,15 C5,24 9,27 16,27"/>
<path class="e" d="M22,37 C18,44 10,45 -2,45"/>
<path class="e" d="M-29,46 C-40,46 -41,40 -41,0 C-41,-36 -33,-41 -14,-41"/>
<path class="e" d="M-8,56 C-3,59 0,60 0,65"/>
<path class="t" d="M0,68 V93"/>
<path class="e" d="M42,34 C54,38 60,30 60,24 C60,15 52,15 43,20"/>
<text x="53" y="32" font-family="Liberation Sans, Arial, sans-serif" font-size="12" text-anchor="middle">A</text>
</g>
<circle class="n" cx="94" cy="1192" r="14"/>
<circle class="n" cx="65" cy="1202" r="14"/>
<circle class="g" cx="94" cy="1245" r="20"/><text class="sk" x="94" y="1241" font-size="13">A:</text><text class="sg" x="94" y="1258" font-size="13" font-style="normal">19-23</text>
<circle class="n" cx="59" cy="1300" r="14"/>
<path class="e" d="M94,1206 V1224"/>
<path class="e" d="M61,1216 C56,1230 62,1233 76,1234"/>
<path class="e" d="M88,1264 C84,1268 62,1264 60,1285"/>
<path class="dt" d="M77,1254 L54,1318 M113,1251 L142,1310"/>
<path class="rd" d="M100,1377 C80,1382 74,1398 70,1420 C66,1445 57,1460 57,1486"/>
<path class="rd" d="M100,1488 V1460 C100,1452 105,1451 114,1451 H140 C150,1451 152,1440 153,1414"/>
<path class="rd" d="M172,1410 C176,1430 176,1445 160,1447 C146,1449 140,1452 140,1486"/>
</g>

<g id="psv-box">
<rect class="psv" x="17" y="1488" width="166" height="90"/>
<path class="pl" d="M17,1524 H183 M17,1543 H183 M150,1488 V1509 H183 M78,1543 V1578 M131,1543 V1578"/>
<text class="pt" x="100" y="1514" font-size="18">"pt"</text>
<text class="pt" x="166.5" y="1504" font-size="14">A</text>
<text class="pt" x="100" y="1538" font-size="12.5">Reducible</text>
<text class="pt" x="47.5" y="1558" font-size="10.5">Combiner</text>
<text class="pt" x="47.5" y="1572" font-size="10.5">combine( )</text>
<text class="pt" x="104.5" y="1558" font-size="10.5">Initial Val</text>
<text class="pt" x="104.5" y="1572" font-size="10.5">{ 0,0,0 }</text>
<text class="pt" x="157" y="1558" font-size="10.5">Identity</text>
<text class="pt" x="157" y="1572" font-size="10.5">{ 0,0,0 }</text>
</g>

<g id="e-code-left" class="code" xml:space="preserve">
<path class="doc" d="M190,1114 H562 V1610 Q469,1584 376,1610 Q283,1636 190,1610 Z"/>
<text x="195" y="1136"><tspan class="ln"> 1</tspan> void combine(point *a, point *b) {</text>
<text x="195" y="1155.4"><tspan class="ln"> 2</tspan>   if (a-&gt;x &gt; b-&gt;x) a-&gt;x = b-&gt;x;</text>
<text x="195" y="1174.8"><tspan class="ln"> 3</tspan>   if (a-&gt;y &gt; b-&gt;y) a-&gt;y = b-&gt;y;</text>
<text x="195" y="1194.2"><tspan class="ln"> 4</tspan>   if (sqrt(pow(a-&gt;x,2),</text>
<text x="195" y="1213.6"><tspan class="ln"> 5</tspan>            pow(a-&gt;y,2))</text>
<text x="195" y="1233"><tspan class="ln"> 6</tspan>       &lt; sqrt(pow(b-&gt;x,2),</text>
<text x="195" y="1252.4"><tspan class="ln"> 7</tspan>              pow(b-y,2)))</text>
<text x="195" y="1271.8"><tspan class="ln"> 8</tspan>      a-&gt;force = b-&gt;force;</text>
<text x="195" y="1291.2"><tspan class="ln"> 9</tspan> }</text>
<text x="195" y="1310.6"><tspan class="ln">10</tspan> <tspan class="pr">#pragma omp declare                  \</tspan></text>
<text x="195" y="1330"><tspan class="ln">11</tspan> <tspan class="pr">     reduction(cb: point:            \</tspan></text>
<text x="195" y="1349.4"><tspan class="ln">12</tspan> <tspan class="pr">     combine(&amp;omp_out, &amp;omp_in))     \</tspan></text>
<text x="195" y="1368.8"><tspan class="ln">13</tspan> <tspan class="pr">     initializer(omp_priv={0, 0, 0})</tspan></text>
<text x="195" y="1388.2"><tspan class="ln">14</tspan></text>
<text x="195" y="1407.6"><tspan class="ln">15</tspan> void work(struct point* points) {</text>
<text x="195" y="1427"><tspan class="ln">16</tspan>   struct point pt = {...};</text>
<text x="195" y="1446.4"><tspan class="ln">17</tspan>   <tspan class="pr">#pragma omp parallel for \</tspan></text>
<text x="195" y="1465.8"><tspan class="ln">18</tspan>               <tspan class="pr">reduction(cb:pt)</tspan></text>
<text x="195" y="1485.2"><tspan class="ln">19</tspan>   for(int i=0; i&lt;N; i++) {</text>
<text x="195" y="1504.6"><tspan class="ln">20</tspan>     {... parallel work ...}</text>
<text x="195" y="1524"><tspan class="ln">21</tspan>     pt-&gt;x = {...}; pt-&gt;y = {...};</text>
<text x="195" y="1543.4"><tspan class="ln">22</tspan></text>
<text x="195" y="1562.8"><tspan class="ln">23</tspan>     combine(&amp;pt, &amp;points[i%3]);</text>
<text x="195" y="1582.2"><tspan class="ln">24</tspan>   }</text>
<text x="195" y="1601.6"><tspan class="ln">25</tspan> }</text>
</g>

<g id="e-middle">
<g transform="translate(632,1376)">
<circle class="big" r="66"/>
<path class="t" d="M0,-92 V-68"/>
<path class="e" d="M0,-66 V-55"/>
<circle class="n" cx="0" cy="-41" r="13"/><text class="lb" x="0" y="-36">19</text>
<circle class="n" cx="35" cy="-18" r="13"/><text class="lb" x="35" y="-13">20</text>
<circle class="n" cx="1" cy="1" r="13"/><text class="lb" x="1" y="6">21</text>
<circle class="n" cx="31" cy="26" r="13"/><text class="lb" x="31" y="31">23</text>
<circle class="n" cx="-15" cy="44" r="13"/><text class="lb" x="-15" y="49">19</text>
<path class="e" d="M0,-28 V-13"/>
<path class="e" d="M13,-41 H30 C33,-41 35,-39 35,-32"/>
<path class="e" d="M34,-5 C33,2 32,7 32,12"/>
<path class="e" d="M4,14 C6,23 10,26 17,26"/>
<path class="e" d="M23,36 C19,43 11,44 -1,44"/>
<path class="e" d="M-28,45 C-40,45 -41,40 -41,0 C-41,-36 -33,-41 -14,-41"/>
<path class="e" d="M-7,55 C-3,58 0,59 0,65"/>
<path class="t" d="M0,68 V93"/>
<path class="r" d="M43,32 C54,29 54,11 45,12 C43,12 41,14 40,16"/>
</g>
<circle class="n" cx="615" cy="1194" r="14"/>
<circle class="n" cx="588" cy="1204" r="14"/>
<circle class="g" cx="615" cy="1248" r="20"/><text class="sk" x="615" y="1244" font-size="13">A:</text><text class="sg" x="615" y="1261" font-size="13" font-style="normal">19-23</text>
<circle class="n" cx="581" cy="1302" r="14"/>
<path class="e" d="M615,1208 V1227"/>
<path class="e" d="M609,1267 C605,1271 583,1268 581,1287"/>
<path class="dt" d="M597,1258 L576,1330 M634,1256 L662,1313"/>
</g>

<g id="e-code-right" class="code" xml:space="preserve">
<path class="doc" d="M705,1115 H1039 V1612 Q956,1586 872,1612 Q789,1638 705,1612 Z"/>
<text x="707" y="1137"><tspan class="ln"> 1</tspan> void combine(point *a, point *b) {</text>
<text x="707" y="1156.4"><tspan class="ln"> 2</tspan>  if (a-&gt;x &gt; b-&gt;x) a-&gt;x = b-&gt;x;</text>
<text x="707" y="1175.8"><tspan class="ln"> 3</tspan>  if (a-&gt;y &gt; b-&gt;y) a-&gt;y = b-&gt;y;</text>
<text x="707" y="1195.2"><tspan class="ln"> 4</tspan>  if (sqrt(pow(a-&gt;x,2),</text>
<text x="707" y="1214.6"><tspan fill="#222"> 5</tspan>           pow(a-&gt;y,2))</text>
<text x="707" y="1234"><tspan class="ln"> 6</tspan>      &lt; sqrt(pow(b-&gt;x,2),</text>
<text x="707" y="1253.4"><tspan fill="#222"> 7</tspan>           pow(b-y,2)))</text>
<text x="707" y="1272.8"><tspan class="ln"> 8</tspan>     a-&gt;force = b-&gt;force;</text>
<text x="707" y="1292.2"><tspan class="ln"> 9</tspan> }</text>
<text x="707" y="1311.6"><tspan class="ln">10</tspan></text>
<text x="707" y="1331"><tspan class="ln">11</tspan></text>
<text x="707" y="1350.4"><tspan class="ln">12</tspan></text>
<text x="707" y="1369.8"><tspan class="ln">13</tspan></text>
<text x="707" y="1389.2"><tspan class="ln">14</tspan></text>
<text x="707" y="1408.6"><tspan class="ln">15</tspan> void work(struct point* points) {</text>
<text x="707" y="1428"><tspan class="ln">16</tspan>   struct point pt = {...};</text>
<text x="707" y="1447.4"><tspan class="ln">17</tspan>   <tspan class="pr">#pragma omp parallel for</tspan></text>
<text x="707" y="1466.8"><tspan class="ln">18</tspan></text>
<text x="707" y="1486.2"><tspan class="ln">19</tspan>   for(int i=0; i&lt;N; i++) {</text>
<text x="707" y="1505.6"><tspan class="ln">20</tspan>     {... parallel work ...}</text>
<text x="707" y="1525"><tspan class="ln">21</tspan>     pt-&gt;x = {...}; pt-&gt;y = {...};</text>
<text x="707" y="1544.4"><tspan class="ln">22</tspan>     <tspan class="pr">#pragma omp ordered</tspan></text>
<text x="707" y="1563.8"><tspan class="ln">23</tspan>     combine(&amp;pt, &amp;points[i%3]);</text>
<text x="707" y="1583.2"><tspan class="ln">24</tspan>   }</text>
<text x="707" y="1602.6"><tspan class="ln">25</tspan> }</text>
</g>

<g id="e-right">
<g transform="translate(1115,1378)">
<circle class="big" r="66"/>
<path class="t" d="M0,-92 V-68"/>
<path class="e" d="M0,-66 V-55"/>
<circle class="n" cx="-1" cy="-41" r="13"/><text class="lb" x="-1" y="-36">19</text>
<circle class="n" cx="34" cy="-16" r="13"/><text class="lb" x="34" y="-11">20</text>
<circle class="n" cx="1" cy="3" r="13"/><text class="lb" x="1" y="8">21</text>
<circle class="n" cx="29" cy="27" r="13"/><text class="lb" x="29" y="32">23</text>
<circle class="n" cx="-17" cy="45" r="13"/><text class="lb" x="-17" y="50">19</text>
<path class="e" d="M-1,-28 V-11"/>
<path class="e" d="M12,-41 H29 C32,-41 34,-39 34,-30"/>
<path class="e" d="M33,-3 C32,4 30,9 30,13"/>
<path class="e" d="M4,16 C6,24 10,27 15,27"/>
<path class="e" d="M21,37 C17,44 9,45 -3,45"/>
<path class="e" d="M-30,46 C-41,46 -42,40 -42,0 C-42,-36 -34,-41 -15,-41"/>
<path class="e" d="M-9,56 C-4,59 0,60 0,65"/>
<path class="t" d="M0,68 V93"/>
<path class="r" d="M41,33 C52,30 52,12 43,13 C41,13 39,15 38,17"/>
</g>
<circle class="n" cx="1093" cy="1196" r="14"/>
<circle class="n" cx="1064" cy="1205" r="14"/>
<circle class="g" cx="1094" cy="1247" r="20"/><text class="sk" x="1094" y="1243" font-size="13">A:</text><text class="sg" x="1094" y="1260" font-size="13" font-style="normal">19-23</text>
<circle class="n" cx="1059" cy="1303" r="14"/>
<path class="e" d="M1093,1210 V1226"/>
<path class="e" d="M1060,1219 C1056,1232 1062,1236 1076,1237"/>
<path class="e" d="M1088,1266 C1084,1270 1062,1268 1060,1288"/>
<path class="dt" d="M1074,1257 L1050,1362 M1115,1256 L1144,1318"/>
</g>

<g id="e-connectors">
<path class="dc" d="M205,1470 H163"/>
<path class="dc" d="M545,1470 H583"/>
<path class="dc" d="M720,1470 H682"/>
<path class="dc" d="M1027,1470 H1064"/>
</g>
</svg>
